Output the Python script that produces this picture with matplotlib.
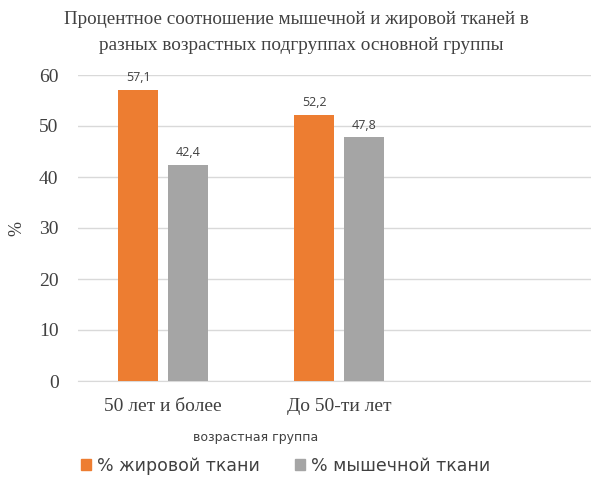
import matplotlib
matplotlib.use("Agg")
import matplotlib.pyplot as plt
import numpy as np
from matplotlib.patches import Patch

categories = ["50 лет и более", "До 50-ти лет"]
fat_pct = [57.1, 52.2]
muscle_pct = [42.4, 47.8]
series_names = ["% жировой ткани", "% мышечной ткани"]
value_labels_fat = ["57,1", "52,2"]
value_labels_muscle = ["42,4", "47,8"]
y_ticks = [0, 10, 20, 30, 40, 50, 60]

ORANGE = "#ED7D31"
GRAY = "#A5A5A5"
SERIF = "Liberation Serif"
SANS = "DejaVu Sans"

fig = plt.figure(figsize=(5.91, 4.79), dpi=100)
ax = fig.add_axes([78 / 591, 1 - 381 / 479, 1 - 78 / 591, (381 - 75) / 479])

x = np.arange(len(categories))
w = 0.227
off = 0.142
b1 = ax.bar(x - off, fat_pct, w, color=ORANGE, zorder=3)
b2 = ax.bar(x + off, muscle_pct, w, color=GRAY, zorder=3)

for bars, labels in ((b1, value_labels_fat), (b2, value_labels_muscle)):
    for r, lab in zip(bars, labels):
        ax.annotate(lab, (r.get_x() + r.get_width() / 2, r.get_height()),
                    xytext=(0, 4), textcoords="offset points",
                    ha="center", va="bottom", fontsize=9,
                    color="#404040", family="Open Sans")

ax.set_ylim(0, 60)
ax.set_xlim(-0.483, 2.43)
ax.set_yticks(y_ticks)
ax.set_yticklabels([str(t) for t in y_ticks], family=SERIF, fontsize=14, color="#404040")
ax.set_xticks(x)
ax.set_xticklabels(categories, family=SERIF, fontsize=14, color="#404040")
ax.tick_params(axis="both", length=0)
ax.tick_params(axis="x", pad=12)
ax.tick_params(axis="y", pad=14)

ax.grid(axis="y", color="#D9D9D9", linewidth=1, zorder=0)
for s in ("top", "right", "left"):
    ax.spines[s].set_visible(False)
ax.spines["bottom"].set_color("#D9D9D9")

ax.set_ylabel("%", family=SERIF, fontsize=13, color="#404040")
ax.yaxis.set_label_coords(-0.102, 0.5)

fig.text(0.433, 1 - 437 / 479, "возрастная группа", family=SANS, fontsize=9,
         color="#404040", ha="center", va="center")

fig.text(0.501, 1 - 19 / 479, "Процентное соотношение мышечной и жировой тканей в",
         family=SERIF, fontsize=13.7, color="#404040", ha="center", va="center")
fig.text(0.51, 1 - 46 / 479, "разных возрастных подгруппах основной группы",
         family=SERIF, fontsize=13.9, color="#404040", ha="center", va="center")

handles = [Patch(color=ORANGE), Patch(color=GRAY)]
fig.legend(handles, series_names, loc="center", bbox_to_anchor=(0.483, 1 - 466 / 479),
           ncol=2, frameon=False, prop={"family": SANS, "size": 12.5},
           handlelength=0.6, handleheight=0.6, handletextpad=0.35,
           columnspacing=2.0, labelcolor="#404040")

fig.savefig("out.png", dpi=100)
